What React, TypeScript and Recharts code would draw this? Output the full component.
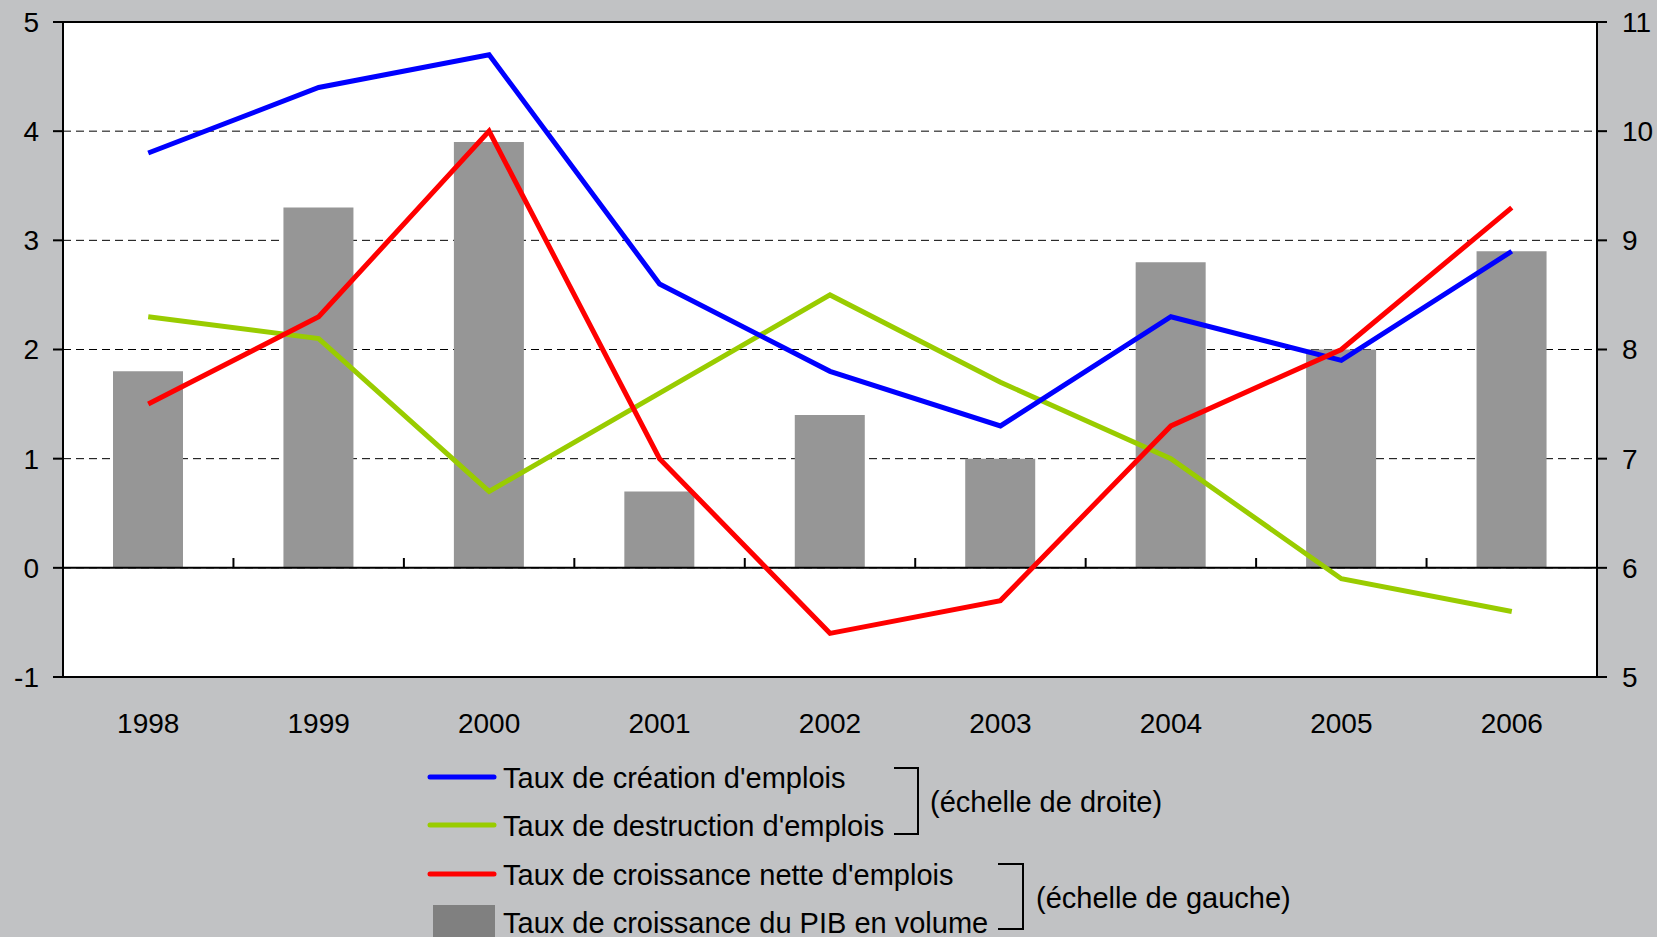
import React from 'react';
import {
  Bar,
  CartesianGrid,
  ComposedChart,
  Line,
  ReferenceLine,
  XAxis,
  YAxis,
} from 'recharts';

// Années (catégories)
const YEARS = ['1998', '1999', '2000', '2001', '2002', '2003', '2004', '2005', '2006'];

// Échelle de gauche
const PIB_VOLUME = [1.8, 3.3, 3.9, 0.7, 1.4, 1.0, 2.8, 2.0, 2.9];
const CROISSANCE_NETTE = [1.5, 2.3, 4.0, 1.0, -0.6, -0.3, 1.3, 2.0, 3.3];

// Échelle de droite
const CREATION = [9.8, 10.4, 10.7, 8.6, 7.8, 7.3, 8.3, 7.9, 8.9];
const DESTRUCTION = [8.3, 8.1, 6.7, 7.6, 8.5, 7.7, 7.0, 5.9, 5.6];

const LEFT_TICKS = [-1, 0, 1, 2, 3, 4, 5];
const RIGHT_TICKS = [5, 6, 7, 8, 9, 10, 11];

const NAMES = {
  creation: "Taux de création d'emplois",
  destruction: "Taux de destruction d'emplois",
  nette: "Taux de croissance nette d'emplois",
  pib: 'Taux de croissance du PIB en volume',
};
const SCALE_LABELS = ['(échelle de droite)', '(échelle de gauche)'];

const COLORS = {
  creation: '#0000ff',
  destruction: '#99cc00',
  nette: '#ff0000',
  pib: '#969696',
  pibLegend: '#808080',
};

const FONT = '"Liberation Sans", Arial, sans-serif';

const data = YEARS.map((year, i) => ({
  year,
  pib: PIB_VOLUME[i],
  nette: CROISSANCE_NETTE[i],
  creation: CREATION[i],
  destruction: DESTRUCTION[i],
}));

function Legend() {
  // x positions of the legend block
  const markX1 = 430;
  const markX2 = 494;
  const textX = 503;
  const rows = [
    { key: 'creation', baseline: 788, kind: 'line' },
    { key: 'destruction', baseline: 836, kind: 'line' },
    { key: 'nette', baseline: 885, kind: 'line' },
    { key: 'pib', baseline: 933, kind: 'box' },
  ] as const;

  return (
    <svg
      width={1657}
      height={937}
      style={{ position: 'absolute', left: 0, top: 0, pointerEvents: 'none' }}
    >
      {rows.map((r) =>
        r.kind === 'line' ? (
          <line
            key={r.key}
            x1={markX1}
            x2={markX2}
            y1={r.baseline - 11}
            y2={r.baseline - 11}
            stroke={COLORS[r.key]}
            strokeWidth={5}
            strokeLinecap="round"
          />
        ) : (
          <rect key={r.key} x={433} y={905} width={62} height={32} fill={COLORS.pibLegend} />
        ),
      )}
      {rows.map((r) => (
        <text key={`t-${r.key}`} x={textX} y={r.baseline} fontSize={29} fontFamily={FONT} fill="#000">
          {NAMES[r.key]}
        </text>
      ))}
      {/* accolades */}
      <polyline points="894,768 918,768 918,834 894,834" fill="none" stroke="#000" strokeWidth={2} />
      <text x={930} y={812} fontSize={29} fontFamily={FONT} fill="#000">
        {SCALE_LABELS[0]}
      </text>
      <polyline points="998,864 1023,864 1023,929 998,929" fill="none" stroke="#000" strokeWidth={2} />
      <text x={1036} y={908} fontSize={29} fontFamily={FONT} fill="#000">
        {SCALE_LABELS[1]}
      </text>
    </svg>
  );
}

export default function App() {
  const tickStyle = { fontSize: 28, fill: '#000', fontFamily: FONT };
  return (
    <div
      style={{
        position: 'relative',
        width: 1657,
        height: 937,
        background: '#c1c2c4',
        overflow: 'hidden',
      }}
    >
      <style>{'body{margin:0}'}</style>
      <ComposedChart
        width={1657}
        height={760}
        data={data}
        margin={{ top: 22, right: 10, bottom: 23, left: 13 }}
        barSize={70}
      >
        <CartesianGrid
          yAxisId="left"
          vertical={false}
          stroke="#000"
          strokeDasharray="8 5"
          fill="#fff"
          fillOpacity={1}
        />
        <XAxis
          dataKey="year"
          height={60}
          tickSize={0}
          tickMargin={36}
          tick={tickStyle}
          axisLine={{ stroke: '#000', strokeWidth: 2 }}
          tickLine={false}
          interval={0}
        />
        <YAxis
          yAxisId="left"
          width={50}
          domain={[-1, 5]}
          ticks={LEFT_TICKS}
          interval={0}
          tick={tickStyle}
          tickSize={10}
          tickMargin={14}
          axisLine={{ stroke: '#000', strokeWidth: 2 }}
          tickLine={{ stroke: '#000', strokeWidth: 2 }}
        />
        <YAxis
          yAxisId="right"
          orientation="right"
          width={50}
          domain={[5, 11]}
          ticks={RIGHT_TICKS}
          interval={0}
          tick={{ ...tickStyle, textAnchor: 'start' }}
          tickSize={10}
          tickMargin={15}
          axisLine={{ stroke: '#000', strokeWidth: 2 }}
          tickLine={{ stroke: '#000', strokeWidth: 2 }}
        />
        <Bar
          yAxisId="left"
          dataKey="pib"
          name={NAMES.pib}
          fill={COLORS.pib}
          isAnimationActive={false}
        />
        <ReferenceLine yAxisId="left" y={5} stroke="#000" strokeWidth={2} />
        <ReferenceLine yAxisId="left" y={0} stroke="#000" strokeWidth={2} />
        {/* petites graduations entre catégories, posées sur l'axe du zéro */}
        {YEARS.slice(1).map((year) => (
          <ReferenceLine
            key={year}
            yAxisId="left"
            position="start"
            segment={[
              { x: year, y: 0 },
              { x: year, y: 0.09 },
            ]}
            stroke="#000"
            strokeWidth={2}
          />
        ))}
        <Line
          yAxisId="right"
          dataKey="destruction"
          name={NAMES.destruction}
          stroke={COLORS.destruction}
          strokeWidth={5}
          dot={false}
          isAnimationActive={false}
        />
        <Line
          yAxisId="right"
          dataKey="creation"
          name={NAMES.creation}
          stroke={COLORS.creation}
          strokeWidth={5}
          dot={false}
          isAnimationActive={false}
        />
        <Line
          yAxisId="left"
          dataKey="nette"
          name={NAMES.nette}
          stroke={COLORS.nette}
          strokeWidth={5}
          dot={false}
          isAnimationActive={false}
        />
      </ComposedChart>
      <Legend />
    </div>
  );
}
